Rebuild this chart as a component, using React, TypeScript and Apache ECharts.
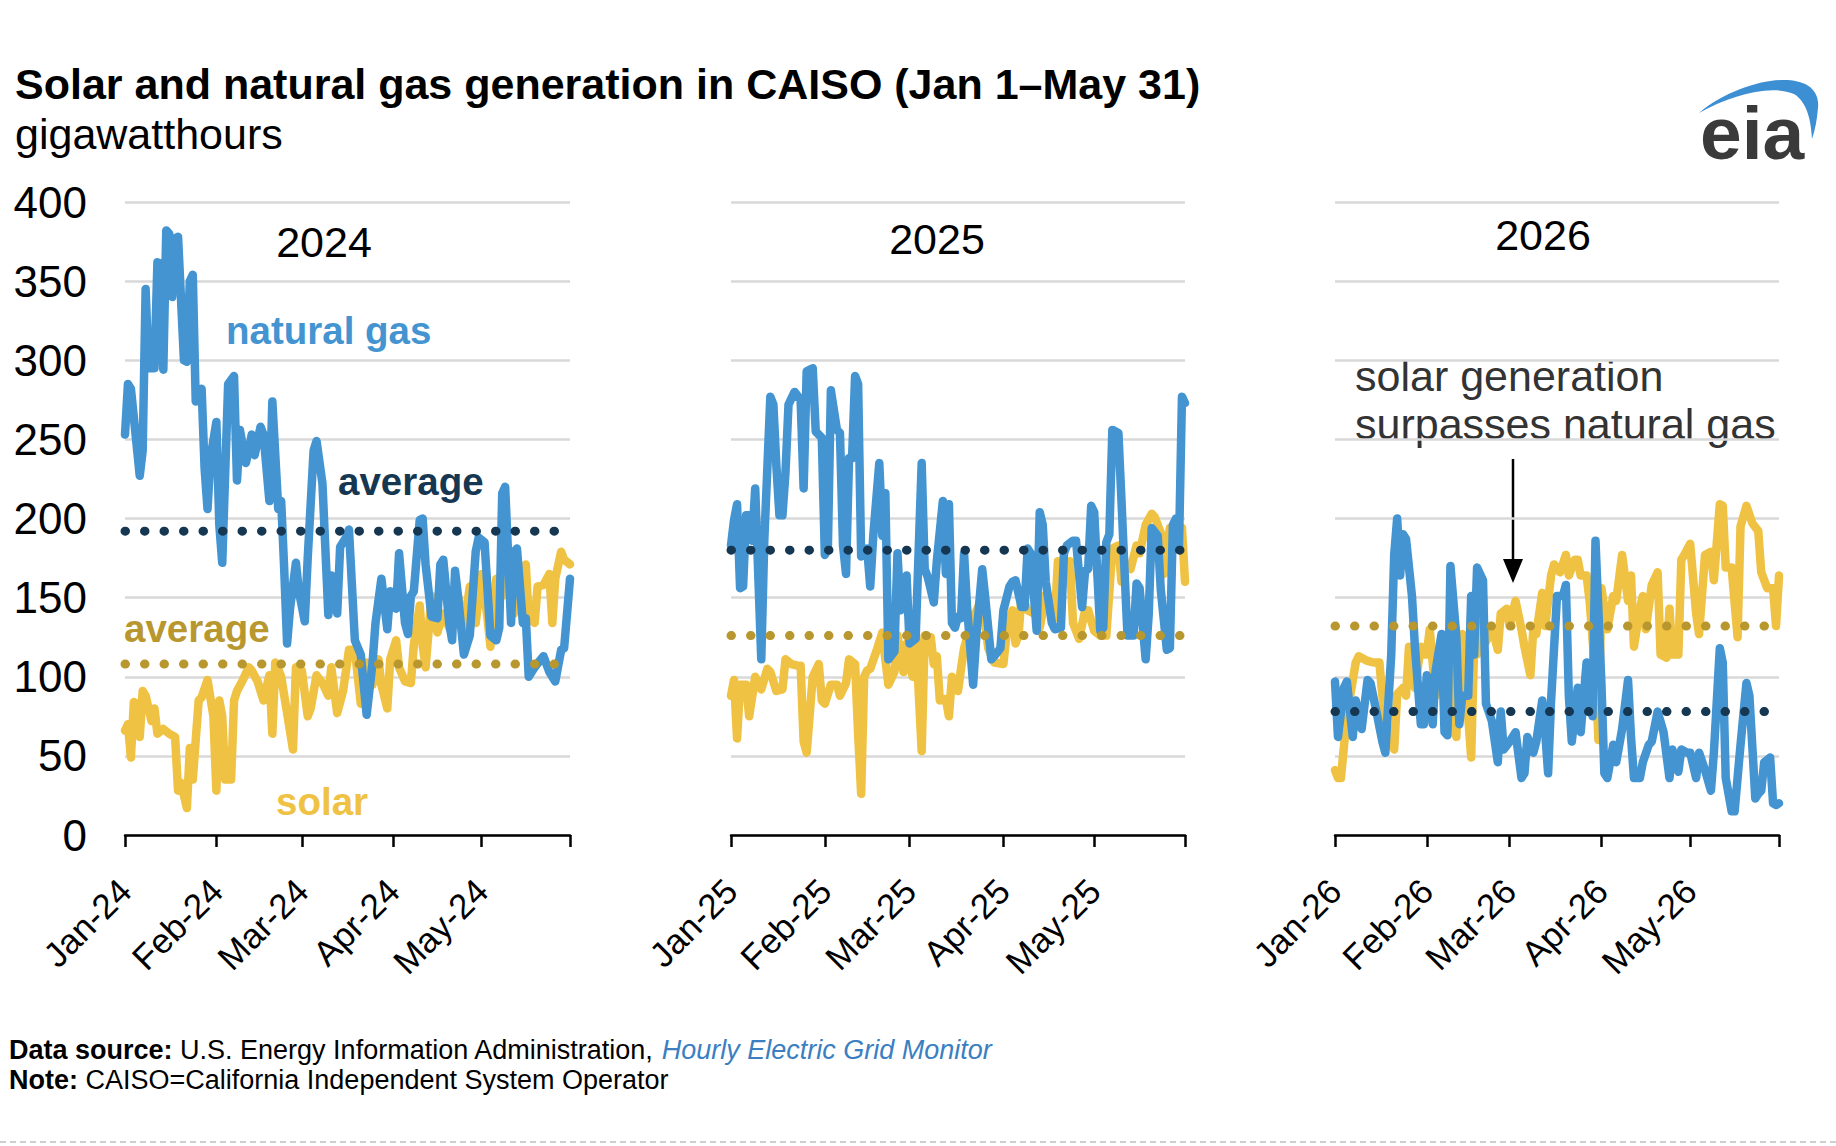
import { useEffect, useRef } from 'react';
import * as echarts from 'echarts';

// daily generation: [day index from Jan 1, GWh]
const GAS_2024 = [
  [0, 253], [1, 285], [2, 282], [3, 264], [5, 227], [6, 243], [7, 345], [8, 295], [10, 295], [11, 362],
  [12, 361], [13, 294], [14, 382], [15, 380], [16, 340], [17, 377], [18, 378], [20, 300], [21, 299], [22, 350],
  [23, 354], [24, 274], [26, 282], [27, 232], [28, 206], [29, 238], [31, 261], [32, 196], [33, 172], [35, 285],
  [37, 290], [38, 224], [39, 256], [41, 235], [42, 243], [43, 253], [44, 240], [46, 258], [47, 253], [49, 211],
  [50, 274], [52, 206], [53, 211], [54, 169], [55, 121], [56, 143], [58, 172], [59, 154], [61, 135], [62, 175],
  [64, 243], [65, 249], [67, 222], [69, 139], [70, 164], [72, 140], [73, 182], [75, 188], [76, 193], [78, 123],
  [80, 114], [82, 76], [84, 109], [85, 134], [87, 162], [89, 130], [90, 154], [92, 143], [93, 178], [95, 134],
  [96, 127], [97, 151], [98, 154], [100, 199], [101, 200], [102, 171], [104, 138], [106, 137], [107, 171], [108, 174],
  [110, 134], [111, 123], [112, 167], [113, 151], [115, 114], [117, 126], [119, 179], [120, 188], [122, 185], [124, 126],
  [126, 123], [127, 131], [128, 216], [129, 220], [131, 134], [132, 179], [133, 181], [135, 134], [136, 137], [137, 100],
  [139, 106], [142, 113], [144, 103], [146, 97], [148, 117], [149, 118], [151, 162],
];
const SOLAR_2024 = [
  [0, 66], [1, 70], [2, 49], [3, 84], [4, 83], [5, 62], [6, 91], [7, 88], [9, 72], [10, 80],
  [11, 64], [13, 67], [15, 64], [17, 62], [18, 28], [19, 33], [21, 17], [22, 55], [23, 35], [25, 85],
  [26, 87], [28, 98], [30, 75], [31, 28], [32, 85], [33, 75], [34, 35], [36, 35], [37, 85], [38, 91],
  [40, 98], [42, 106], [43, 104], [45, 97], [47, 85], [49, 101], [50, 64], [51, 109], [53, 100], [55, 77],
  [57, 54], [58, 106], [60, 104], [62, 75], [63, 80], [65, 101], [67, 96], [69, 88], [70, 106], [72, 77],
  [74, 91], [76, 117], [78, 117], [80, 83], [82, 109], [84, 95], [86, 111], [87, 95], [89, 80], [90, 111],
  [92, 123], [93, 106], [95, 97], [97, 96], [98, 120], [100, 145], [101, 120], [102, 106], [104, 151], [106, 128],
  [108, 140], [110, 131], [111, 137], [113, 151], [115, 131], [117, 157], [119, 134], [121, 165], [123, 137], [124, 119],
  [126, 162], [128, 151], [130, 162], [132, 140], [134, 162], [136, 171], [137, 137], [139, 134], [140, 157], [142, 158],
  [144, 165], [145, 134], [146, 162], [148, 179], [149, 174], [151, 171],
];
const GAS_2025 = [
  [0, 183], [1, 199], [2, 209], [3, 156], [4, 157], [5, 202], [6, 202], [7, 186], [8, 219], [10, 111],
  [11, 186], [13, 277], [14, 272], [15, 233], [16, 202], [17, 202], [18, 229], [19, 272], [21, 280], [23, 275],
  [24, 219], [25, 293], [27, 295], [28, 255], [30, 251], [31, 177], [32, 181], [33, 281], [35, 256], [36, 254],
  [37, 183], [38, 165], [39, 238], [40, 238], [41, 290], [42, 285], [43, 176], [45, 181], [46, 157], [47, 189],
  [49, 235], [50, 189], [51, 216], [52, 111], [54, 116], [55, 178], [56, 142], [58, 164], [59, 121], [61, 124],
  [63, 235], [64, 168], [65, 163], [67, 147], [68, 173], [70, 211], [71, 165], [72, 209], [73, 134], [74, 131],
  [75, 138], [76, 137], [77, 178], [78, 144], [80, 95], [81, 124], [83, 168], [84, 150], [86, 111], [87, 113],
  [89, 118], [90, 142], [92, 157], [93, 160], [94, 161], [96, 144], [97, 144], [98, 181], [99, 178], [101, 129],
  [102, 204], [103, 196], [104, 160], [106, 134], [107, 130], [109, 131], [110, 178], [111, 183], [113, 186], [114, 186],
  [116, 144], [117, 167], [118, 168], [119, 208], [120, 204], [122, 129], [123, 131], [124, 185], [125, 190], [126, 256],
  [128, 254], [129, 212], [130, 168], [131, 126], [133, 126], [134, 159], [135, 156], [137, 111], [138, 139], [139, 194],
  [141, 189], [142, 155], [144, 117], [145, 118], [146, 196], [147, 200], [148, 181], [149, 277], [150, 273],
];
const SOLAR_2025 = [
  [0, 88], [1, 98], [2, 61], [3, 95], [5, 95], [6, 75], [8, 100], [10, 92], [12, 105], [13, 103],
  [15, 91], [17, 92], [18, 111], [20, 108], [22, 107], [23, 107], [24, 59], [25, 52], [27, 100], [29, 108],
  [30, 85], [31, 83], [33, 95], [35, 95], [36, 88], [38, 96], [39, 111], [41, 108], [42, 64], [43, 26],
  [44, 100], [45, 104], [46, 105], [48, 116], [50, 128], [51, 111], [52, 95], [54, 103], [55, 126], [57, 103],
  [58, 121], [60, 100], [61, 129], [63, 53], [64, 126], [65, 118], [66, 125], [67, 108], [68, 113], [69, 85],
  [71, 86], [72, 75], [73, 100], [75, 91], [76, 105], [77, 118], [80, 137], [83, 150], [85, 118], [87, 109],
  [90, 108], [91, 126], [93, 142], [94, 121], [95, 126], [96, 152], [98, 142], [101, 139], [102, 131], [104, 152],
  [106, 142], [107, 137], [108, 173], [110, 170], [112, 173], [113, 134], [115, 124], [117, 142], [118, 142], [120, 129],
  [122, 126], [124, 126], [126, 181], [128, 183], [129, 160], [130, 173], [132, 168], [134, 183], [135, 178], [137, 196],
  [139, 203], [140, 201], [142, 191], [143, 165], [145, 194], [146, 191], [148, 186], [149, 194], [150, 160],
];
const GAS_2026 = [
  [0, 97], [1, 62], [3, 93], [4, 97], [6, 62], [7, 85], [9, 67], [11, 98], [12, 96], [14, 78],
  [16, 59], [17, 52], [19, 114], [20, 177], [21, 200], [22, 164], [23, 190], [24, 187], [26, 151], [27, 119],
  [29, 70], [30, 70], [31, 101], [32, 98], [33, 70], [34, 104], [36, 127], [37, 65], [38, 63], [39, 170],
  [41, 125], [42, 70], [43, 88], [45, 88], [46, 151], [47, 114], [48, 169], [50, 161], [51, 83], [53, 72],
  [55, 46], [56, 78], [57, 54], [59, 59], [61, 65], [63, 36], [64, 39], [65, 62], [67, 52], [68, 59],
  [70, 85], [71, 65], [72, 39], [73, 85], [75, 151], [77, 151], [78, 158], [79, 88], [80, 59], [82, 93],
  [83, 65], [85, 109], [86, 85], [87, 75], [88, 186], [90, 96], [91, 39], [92, 36], [94, 57], [95, 46],
  [97, 67], [99, 98], [100, 62], [101, 36], [103, 36], [104, 46], [106, 57], [107, 59], [109, 78], [111, 65],
  [113, 36], [114, 54], [116, 40], [117, 54], [119, 52], [120, 52], [122, 36], [123, 52], [125, 41], [127, 28],
  [128, 52], [130, 118], [131, 109], [132, 36], [134, 15], [135, 15], [137, 57], [139, 96], [140, 88], [142, 23],
  [143, 26], [144, 28], [145, 46], [147, 49], [148, 20], [149, 19], [150, 20],
];
const SOLAR_2026 = [
  [0, 41], [1, 36], [2, 36], [4, 75], [7, 109], [8, 113], [11, 110], [13, 109], [15, 109], [16, 88],
  [18, 62], [20, 54], [21, 89], [23, 93], [24, 88], [25, 119], [27, 93], [29, 119], [30, 114], [31, 114],
  [32, 130], [34, 88], [36, 104], [37, 112], [39, 104], [41, 62], [42, 119], [43, 127], [46, 49], [47, 119],
  [48, 114], [50, 135], [51, 122], [53, 132], [55, 117], [56, 140], [58, 143], [59, 132], [61, 148], [63, 130],
  [64, 119], [66, 101], [67, 130], [68, 127], [70, 153], [71, 132], [73, 164], [74, 171], [76, 166], [78, 177],
  [79, 164], [81, 174], [82, 174], [83, 164], [85, 164], [86, 148], [88, 100], [89, 60], [90, 156], [92, 130],
  [94, 151], [95, 148], [97, 177], [99, 148], [100, 164], [101, 119], [103, 143], [104, 151], [105, 130], [107, 158],
  [109, 166], [110, 114], [112, 112], [113, 143], [114, 114], [116, 114], [117, 174], [118, 177], [120, 184], [122, 140],
  [123, 127], [125, 177], [127, 179], [128, 161], [130, 209], [131, 208], [132, 169], [134, 169], [136, 125], [137, 195],
  [139, 208], [141, 197], [143, 192], [144, 166], [146, 156], [148, 156], [149, 132], [150, 164],
];

const YEARS = ['2024', '2025', '2026'];
const DAYS = [152, 151, 151];
const GAS_AVG = [192, 180, 78];
const SOLAR_AVG = [108, 126, 132];
const MONTH_STARTS = [
  [0, 31, 60, 91, 121],
  [0, 31, 59, 90, 120],
  [0, 31, 59, 90, 120],
];
const MONTH_LABELS = [
  ['Jan-24', 'Feb-24', 'Mar-24', 'Apr-24', 'May-24'],
  ['Jan-25', 'Feb-25', 'Mar-25', 'Apr-25', 'May-25'],
  ['Jan-26', 'Feb-26', 'Mar-26', 'Apr-26', 'May-26'],
];
const GAS = [GAS_2024, GAS_2025, GAS_2026];
const SOLAR = [SOLAR_2024, SOLAR_2025, SOLAR_2026];

const FONT = '"Liberation Sans", Arial, sans-serif';
const BLUE = '#4394d1';
const YELLOW = '#efc244';
const NAVY = '#163752';
const GOLD = '#b9972f';

// eia swoosh over the logo
const SWOOSH =
  'M0,33 C25,12 60,0 85,0 C105,0 121,8 119,28 C118,40 116,50 113,59 C112,40 108,22 95,14 C72,4 32,15 0,33 Z';

const PANELS = [
  { left: 125, width: 445 },
  { left: 731, width: 454 },
  { left: 1335, width: 444 },
];

function App() {
  const chartRef = useRef<HTMLDivElement>(null);

  useEffect(() => {
    document.body.style.margin = '0';
    if (!chartRef.current) return;
    echarts.graphic.registerShape('eiaSwoosh', echarts.graphic.extendPath(SWOOSH, {}) as any);
    const chart = echarts.init(chartRef.current, null, { renderer: 'svg' });

    const grids = PANELS.map((p) => ({ left: p.left, width: p.width, top: 202, height: 633 }));

    const xAxes = PANELS.map((_, i) => {
      const n = DAYS[i];
      const starts = MONTH_STARTS[i];
      return {
        type: 'category',
        gridIndex: i,
        boundaryGap: false,
        data: Array.from({ length: n }, (_, d) => String(d)),
        axisLine: { lineStyle: { color: '#000', width: 2.5 } },
        axisTick: {
          length: 12,
          lineStyle: { color: '#000', width: 2.5 },
          interval: (idx: number) => starts.includes(idx) || idx === n - 1,
        },
        axisLabel: {
          rotate: 45,
          fontSize: 35,
          fontFamily: FONT,
          color: '#000',
          margin: 50,
          interval: (idx: number) => starts.includes(idx),
          formatter: (v: string) => {
            const k = starts.indexOf(Number(v));
            return k >= 0 ? MONTH_LABELS[i][k] : '';
          },
        },
        splitLine: { show: false },
      };
    });

    const yAxes = PANELS.map((_, i) => ({
      type: 'value',
      gridIndex: i,
      min: 0,
      max: 400,
      interval: 50,
      axisLine: { show: false },
      axisTick: { show: false },
      axisLabel: {
        show: i === 0,
        fontSize: 44,
        fontFamily: FONT,
        color: '#000',
        margin: 38,
      },
      splitLine: { lineStyle: { color: '#d9d9d9', width: 2.5 } },
    }));

    const series: any[] = [];
    PANELS.forEach((_, i) => {
      const last = DAYS[i] - 1;
      const base = { type: 'line', xAxisIndex: i, yAxisIndex: i, symbol: 'none', silent: true };
      series.push({
        ...base,
        name: 'solar ' + YEARS[i],
        data: SOLAR[i],
        lineStyle: { color: YELLOW, width: 8.5, join: 'round', cap: 'round' },
        z: 2,
      });
      series.push({
        ...base,
        name: 'natural gas ' + YEARS[i],
        data: GAS[i],
        lineStyle: { color: BLUE, width: 8.5, join: 'round', cap: 'round' },
        z: 3,
      });
      series.push({
        ...base,
        name: 'solar average ' + YEARS[i],
        data: [[0, SOLAR_AVG[i]], [last, SOLAR_AVG[i]]],
        lineStyle: { color: GOLD, width: 9, type: [0.5, 19], cap: 'round' },
        z: 4,
      });
      series.push({
        ...base,
        name: 'natural gas average ' + YEARS[i],
        data: [[0, GAS_AVG[i]], [last, GAS_AVG[i]]],
        lineStyle: { color: NAVY, width: 9, type: [0.5, 19], cap: 'round' },
        z: 4,
      });
    });

    const txt = (x: number, y: number, text: string, style: any = {}) => ({
      type: 'text',
      x,
      y,
      silent: true,
      style: {
        text,
        fontFamily: FONT,
        fontSize: 43,
        fill: '#000',
        textVerticalAlign: 'middle',
        ...style,
      },
    });

    const graphic: any[] = [
      txt(15, 84, 'Solar and natural gas generation in CAISO (Jan 1\u2013May 31)', { fontSize: 43, fontWeight: 'bold' }),
      txt(15, 134, 'gigawatthours'),
      txt(324, 242, YEARS[0], { textAlign: 'center' }),
      txt(937, 239, YEARS[1], { textAlign: 'center' }),
      txt(1543, 235, YEARS[2], { textAlign: 'center' }),
      txt(226, 330, 'natural gas', { fontSize: 38.5, fontWeight: 'bold', fill: BLUE }),
      txt(338, 481, 'average', { fontSize: 38.5, fontWeight: 'bold', fill: NAVY }),
      txt(124, 628, 'average', { fontSize: 38.5, fontWeight: 'bold', fill: GOLD }),
      txt(276, 801, 'solar', { fontSize: 38.5, fontWeight: 'bold', fill: YELLOW }),
      txt(1355, 376, 'solar generation', { fill: '#333' }),
      txt(1355, 424, 'surpasses natural gas', { fill: '#333' }),
      {
        type: 'line',
        silent: true,
        shape: { x1: 1513, y1: 459, x2: 1513, y2: 562 },
        style: { stroke: '#000', lineWidth: 2.5 },
      },
      {
        type: 'polygon',
        silent: true,
        shape: { points: [[1503, 559], [1523, 559], [1513, 583]] },
        style: { fill: '#000' },
      },
      txt(1700, 133, 'eia', { fontSize: 75, fontWeight: 'bold', fill: '#3a3a3a' }),
      {
        type: 'eiaSwoosh',
        x: 1699,
        y: 80,
        silent: true,
        style: { fill: '#3d8fd4' },
      },
      txt(9, 1050, '{b|Data source:} U.S. Energy Information Administration, {l|Hourly Electric Grid Monitor}', {
        fontSize: 27,
        rich: {
          b: { fontWeight: 'bold', fontSize: 27, fontFamily: FONT, fill: '#000' },
          l: { fontStyle: 'italic', fontSize: 27, fontFamily: FONT, fill: '#3b7fc2' },
        },
      }),
      txt(9, 1080, '{b|Note:} CAISO=California Independent System Operator', {
        fontSize: 27,
        rich: { b: { fontWeight: 'bold', fontSize: 27, fontFamily: FONT, fill: '#000' } },
      }),
      {
        type: 'line',
        silent: true,
        shape: { x1: 0, y1: 1142, x2: 1836, y2: 1142 },
        style: { stroke: '#cfcfcf', lineWidth: 2, lineDash: [6, 4] },
      },
    ];

    chart.setOption({
      animation: false,
      backgroundColor: '#fff',
      grid: grids,
      xAxis: xAxes,
      yAxis: yAxes,
      series,
      graphic,
    });

    return () => {
      chart.dispose();
    };
  }, []);

  return <div ref={chartRef} style={{ width: 1836, height: 1146, background: '#fff' }} />;
}

export default App;
